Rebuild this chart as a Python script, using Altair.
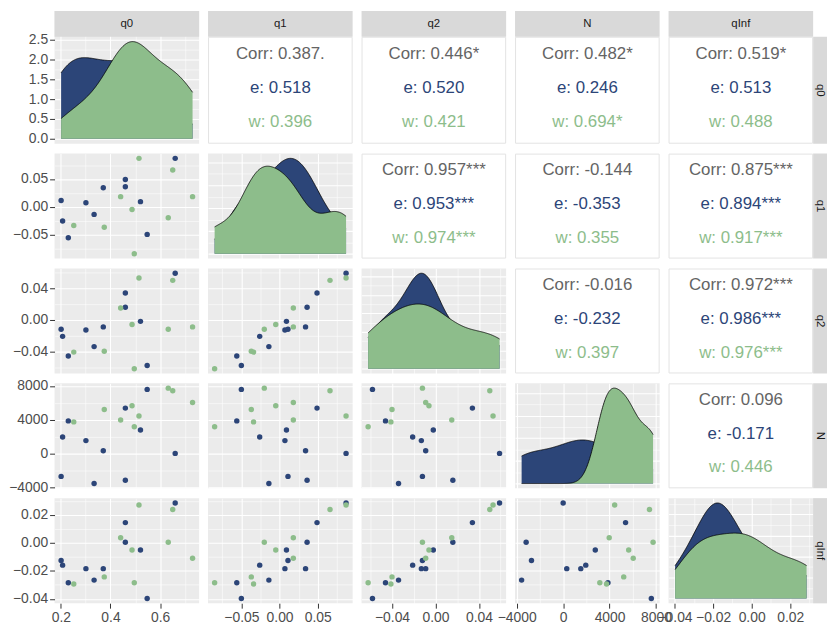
import json
import numpy as np
import pandas as pd
import altair as alt

# ---------------- data ----------------
variables = ["q0", "q1", "q2", "N", "qInf"]
groups = ["e", "w"]

e_q0 = [0.201, 0.207, 0.230, 0.301, 0.334, 0.371, 0.460, 0.460, 0.521, 0.548, 0.661]
e_q1 = [0.011, -0.026, -0.056, 0.007, -0.014, 0.034, 0.049, 0.036, 0.009, -0.050, 0.087]
e_q2 = [-0.012, -0.021, -0.046, -0.013, -0.034, -0.009, 0.034, 0.016, -0.002, -0.058, 0.059]
e_N = [-2730, 1950, 3860, 1520, -3580, 310, 5380, -3190, 2770, 7600, 0]
e_qInf = [-0.0126, -0.0159, -0.0285, -0.0184, -0.0266, -0.0184, 0.0145, 0.0005, -0.0051, -0.0397, 0.0285]

w_q0 = [0.252, 0.375, 0.441, 0.487, 0.496, 0.515, 0.633, 0.651, 0.731]
w_q1 = [-0.034, -0.037, 0.018, -0.005, -0.085, 0.087, -0.020, 0.066, 0.018]
w_q2 = [-0.041, -0.040, 0.015, -0.006, -0.062, 0.053, -0.012, 0.050, -0.009]
w_N = [3740, 5220, 3970, 5650, 3160, 4440, 7750, 7440, 6040]
w_qInf = [-0.0294, -0.0243, 0.0037, -0.0051, -0.0285, 0.0271, 0.0005, 0.0238, -0.0110]

# correlation labels (upper panels), keyed by (row, col)
corr_text = {
    (0, 1): ["Corr: 0.387.", "e: 0.518", "w: 0.396"],
    (0, 2): ["Corr: 0.446*", "e: 0.520", "w: 0.421"],
    (0, 3): ["Corr: 0.482*", "e: 0.246", "w: 0.694*"],
    (0, 4): ["Corr: 0.519*", "e: 0.513", "w: 0.488"],
    (1, 2): ["Corr: 0.957***", "e: 0.953***", "w: 0.974***"],
    (1, 3): ["Corr: -0.144", "e: -0.353", "w: 0.355"],
    (1, 4): ["Corr: 0.875***", "e: 0.894***", "w: 0.917***"],
    (2, 3): ["Corr: -0.016", "e: -0.232", "w: 0.397"],
    (2, 4): ["Corr: 0.972***", "e: 0.986***", "w: 0.976***"],
    (3, 4): ["Corr: 0.096", "e: -0.171", "w: 0.446"],
}

# axis tick values (major, minor) and label formats
major_ticks = {
    "q0": [0.2, 0.4, 0.6],
    "q1": [-0.05, 0.0, 0.05],
    "q2": [-0.04, 0.0, 0.04],
    "N": [-4000, 0, 4000, 8000],
    "qInf": [-0.04, -0.02, 0.0, 0.02],
}
minor_ticks = {
    "q0": [0.3, 0.5, 0.7],
    "q1": [-0.075, -0.025, 0.025, 0.075],
    "q2": [-0.06, -0.02, 0.02, 0.06],
    "N": [-2000, 2000, 6000],
    "qInf": [-0.03, -0.01, 0.01, 0.03],
}
formats = {"q0": ".1f", "q1": ".2f", "q2": ".2f", "N": "d", "qInf": ".2f"}

# ---------------- styling / layout ----------------
BLUE = "#2C4578"
GREEN = "#8DBD8B"
GRAY_TXT = "#646464"
PANEL_BG = "#EBEBEB"
STRIP_BG = "#D9D9D9"
STRIP_TXT = "#1A1A1A"
FONT = "Liberation Sans"
W = 146            # panel width
H = [108, 106, 106, 106, 106]   # panel heights
STRIP = 26         # top strip height
RSTRIP = 14        # right strip width


def top_of(i):
    return STRIP if i == 0 else 0


def cell_h(i):
    return H[i] + top_of(i)


def cell_w(j):
    return W + (RSTRIP if j == 4 else 0)


# ---------------- tables ----------------
e_df = pd.DataFrame({"q0": e_q0, "q1": e_q1, "q2": e_q2, "N": e_N, "qInf": e_qInf, "grp": "e"})
w_df = pd.DataFrame({"q0": w_q0, "q1": w_q1, "q2": w_q2, "N": w_N, "qInf": w_qInf, "grp": "w"})
points = pd.concat([e_df, w_df], ignore_index=True)

domains = {}
for v in variables:
    lo, hi = float(points[v].min()), float(points[v].max())
    pad = 0.05 * (hi - lo)
    domains[v] = [lo - pad, hi + pad]


def kde(vals, grid):
    v = np.asarray(vals, float)
    n = len(v)
    sd = v.std(ddof=1)
    q75, q25 = np.percentile(v, [75, 25])
    bw = 0.9 * min(sd, (q75 - q25) / 1.34) * n ** -0.2
    z = (grid[:, None] - v[None, :]) / bw
    return np.exp(-0.5 * z ** 2).sum(1) / (n * bw * np.sqrt(2 * np.pi))


dens_rows = []
for v in variables:
    lo, hi = float(points[v].min()), float(points[v].max())
    grid = np.linspace(lo, hi, 256)
    for g in groups:
        d = kde(points.loc[points.grp == g, v], grid)
        dens_rows.append(pd.DataFrame({"var": v, "grp": g, "x": grid, "density": d}))
dens = pd.concat(dens_rows, ignore_index=True)

# one shared colour scale: group colours and the three text lines
color_scale = alt.Scale(domain=["Corr", "e", "w"], range=[GRAY_TXT, BLUE, GREEN])


def pretty_breaks(lo, hi, n=6):
    raw = (hi - lo) / n
    mag = 10 ** np.floor(np.log10(raw))
    step = 10 * mag
    for s in [1, 2, 2.5, 5, 10]:
        if s * mag >= raw:
            step = s * mag
            break
    start = np.ceil(lo / step) * step
    majors = [round(float(x), 10) for x in np.arange(start, hi + 1e-12, step)]
    minors = [round(float(m - step / 2), 10) for m in majors + [majors[-1] + step]]
    minors = [m for m in minors if lo <= m <= hi]
    return majors, minors


def make_axis(majors, minors, dom, fmt, show):
    majors = [m for m in majors if dom[0] <= m <= dom[1]]
    minors = [m for m in minors if dom[0] <= m <= dom[1]]
    vals = sorted(majors + minors)
    test = "indexof(%s, datum.value) >= 0" % json.dumps(majors)
    kw = dict(
        values=vals, grid=True, gridColor="white",
        gridWidth={"condition": {"test": test, "value": 1.1}, "value": 0.55},
        domain=False, title=None,
    )
    if show:
        kw.update(
            labels=True, format=fmt, labelExpr="%s ? datum.label : ''" % test,
            ticks=True, tickColor="#333333", tickWidth=1,
            tickSize={"condition": {"test": test, "value": 5}, "value": 0},
            labelFont=FONT, labelFontSize=14, labelColor="#4D4D4D",
            labelPadding=2, labelOverlap=False, labelFlush=False,
        )
    else:
        kw.update(labels=False, ticks=False)
    return alt.Axis(**kw)


def var_axis(v, show):
    return make_axis(major_ticks[v], minor_ticks[v], domains[v], formats[v], show)


def x_scale(v):
    return alt.Scale(domain=domains[v], nice=False, zero=False, range=[0, W])


def y_scale(dom, i):
    return alt.Scale(domain=dom, nice=False, zero=False, range=[cell_h(i), top_of(i)])


def strip_layers(i, j):
    out = []
    if i == 0:
        sd = pd.DataFrame({"label": [variables[j]]})
        out.append(alt.Chart(sd).mark_rect(fill=STRIP_BG).encode(
            x=alt.value(0), x2=alt.value(W), y=alt.value(0), y2=alt.value(STRIP)))
        out.append(alt.Chart(sd).mark_text(font=FONT, fontSize=11.5, color=STRIP_TXT).encode(
            x=alt.value(W / 2), y=alt.value(STRIP / 2), text="label:N"))
    if j == 4:
        sd = pd.DataFrame({"label": [variables[i]]})
        t = top_of(i)
        out.append(alt.Chart(sd).mark_rect(fill=STRIP_BG).encode(
            x=alt.value(W), x2=alt.value(W + RSTRIP), y=alt.value(t), y2=alt.value(cell_h(i))))
        out.append(alt.Chart(sd).mark_text(font=FONT, fontSize=11.5, color=STRIP_TXT, angle=90).encode(
            x=alt.value(W + RSTRIP / 2), y=alt.value((t + cell_h(i)) / 2), text="label:N"))
    return out


def scatter(i, j):
    xv, yv = variables[j], variables[i]
    return alt.Chart(points).mark_circle(size=30, opacity=1).encode(
        x=alt.X(f"{xv}:Q", scale=x_scale(xv), axis=var_axis(xv, i == 4)),
        y=alt.Y(f"{yv}:Q", scale=y_scale(domains[yv], i), axis=var_axis(yv, j == 0)),
        color=alt.Color("grp:N", scale=color_scale, legend=None),
    ).properties(width=cell_w(j), height=cell_h(i),
                 view=alt.ViewBackground(fill=PANEL_BG, stroke=None))


def density(k):
    v = variables[k]
    sub = dens[dens["var"] == v]
    m = float(sub["density"].max())
    ydom = [-0.05 * m, 1.05 * m]
    ymaj, ymin = pretty_breaks(0, 1.05 * m)
    yaxis = make_axis(ymaj, ymin, ydom, ".1f", k == 0)
    layers = []
    for g in groups:
        base = alt.Chart(sub).transform_filter(alt.datum.grp == g)
        enc = dict(
            x=alt.X("x:Q", scale=x_scale(v), axis=var_axis(v, k == 4)),
            y=alt.Y("density:Q", scale=y_scale(ydom, k), axis=yaxis, stack=None),
        )
        layers.append(base.mark_area(opacity=1).encode(
            y2=alt.datum(0), color=alt.Color("grp:N", scale=color_scale, legend=None), **enc))
        layers.append(base.mark_line(color="black", strokeWidth=0.8).encode(**enc))
    layers += strip_layers(k, k)
    return alt.layer(*layers).properties(
        width=cell_w(k), height=cell_h(k), view=alt.ViewBackground(fill=PANEL_BG, stroke=None))


def text_panel(i, j):
    t = top_of(i)
    df = pd.DataFrame({"line": [0, 1, 2], "label": corr_text[(i, j)], "kind": ["Corr", "e", "w"]})
    box = alt.Chart(pd.DataFrame({"a": [0]})).mark_rect(
        fill="white", stroke="#E3E3E3", strokeWidth=1).encode(
        x=alt.value(0.5), x2=alt.value(W - 0.5), y=alt.value(t + 0.5), y2=alt.value(cell_h(i) - 0.5))
    txt = alt.Chart(df).mark_text(font=FONT, fontSize=17, dy=-2).encode(
        x=alt.value(W / 2),
        y=alt.Y("line:O", axis=None,
                scale=alt.Scale(type="point", padding=0.56, range=[t, cell_h(i)])),
        text="label:N",
        color=alt.Color("kind:N", scale=color_scale, legend=None),
    )
    return alt.layer(box, txt, *strip_layers(i, j)).properties(
        width=cell_w(j), height=cell_h(i), view=alt.ViewBackground(fill=None, stroke=None))


def panel(i, j):
    if i == j:
        return density(i)
    if i > j:
        return scatter(i, j)
    return text_panel(i, j)


cells = [panel(i, j) for i in range(5) for j in range(5)]
chart = alt.concat(*cells, columns=5, spacing={"row": 10, "column": 9},
                   bounds="flush", padding=0).configure_view(stroke=None).configure_axis(labelFont=FONT)

chart.save("out.html", embed_options={"renderer": "svg", "actions": False})
